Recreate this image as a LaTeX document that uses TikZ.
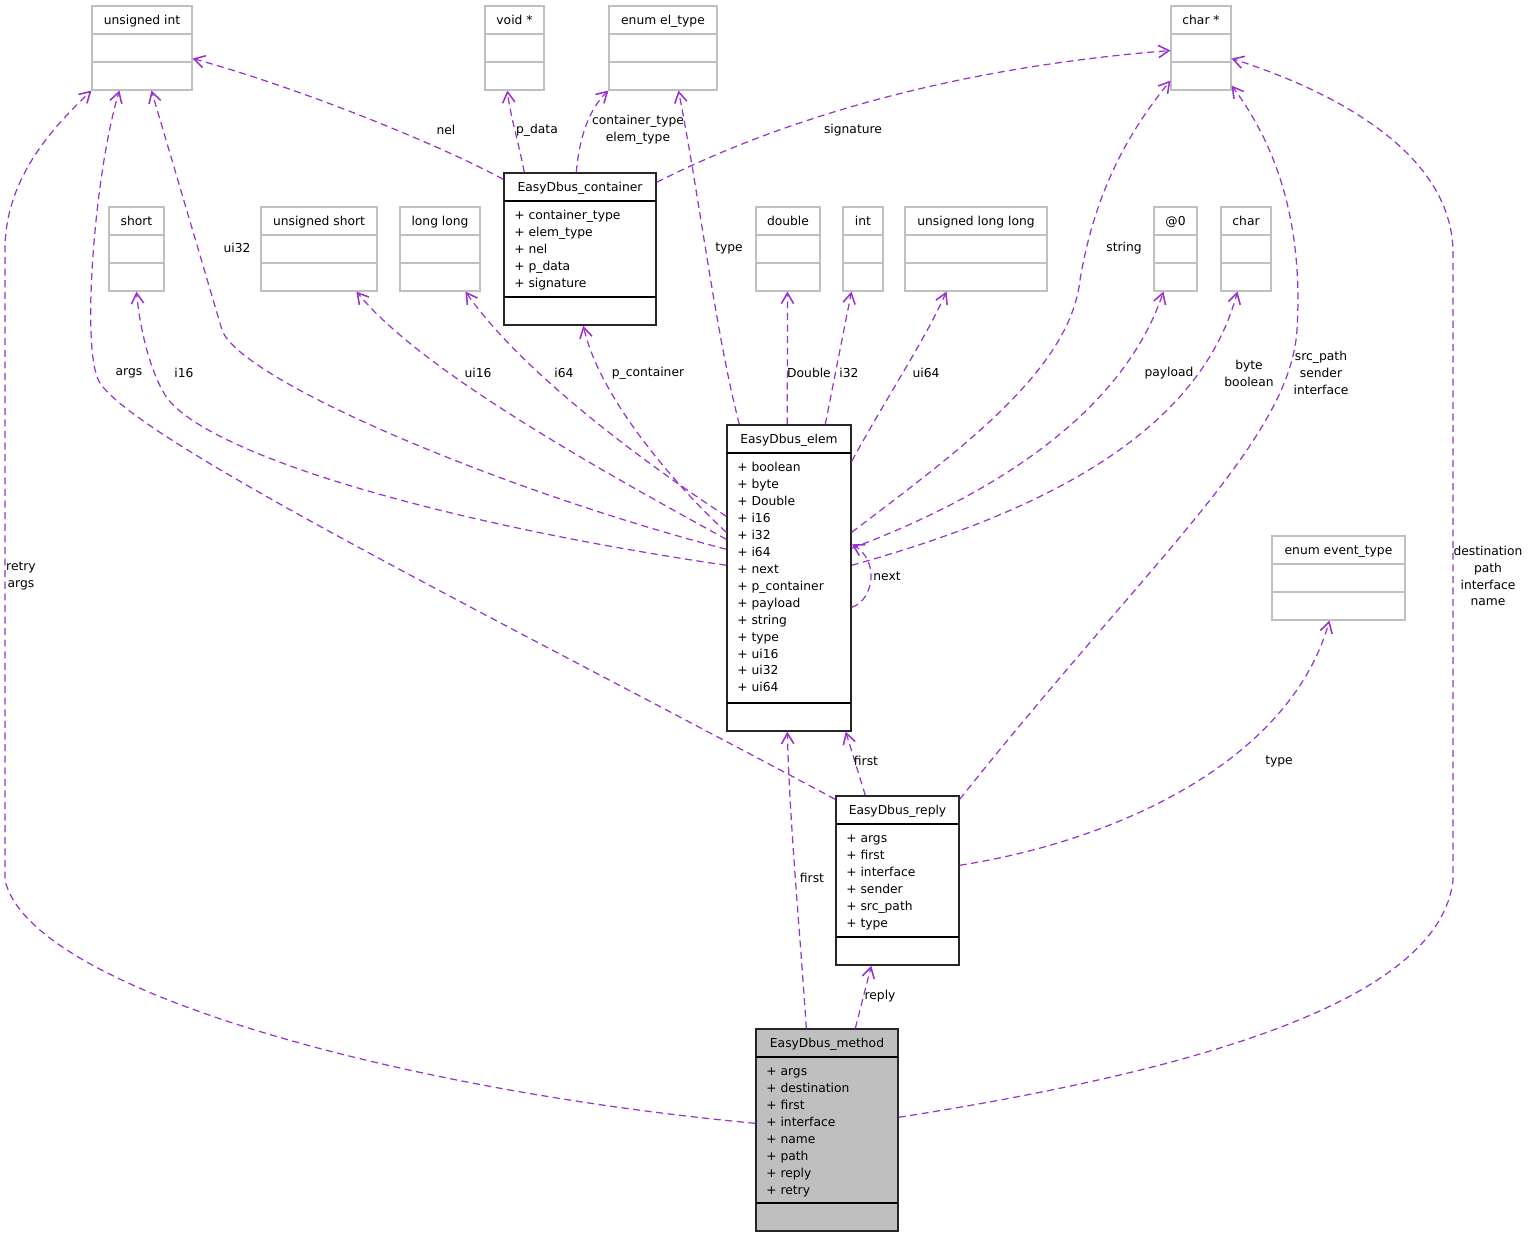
\documentclass[tikz,border=0pt]{standalone}
\usepackage{fontspec}
\setmainfont{DejaVu Sans}
\usetikzlibrary{arrows.meta,fit,calc}
\definecolor{depcol}{HTML}{9A32CD}
\definecolor{typegray}{HTML}{BFBFBF}
\tikzset{
	>={Straight Barb[length=6pt,width=7pt,line width=0.9pt]}
}

% plain type: title + two empty compartments
\newcommand{\typebox}[5]{%
	\node[typeframe, fit={(#2,#3) (#4,#3+84)}] (#1) {};
	\draw[typeline] (#2,#3+28) -- (#4,#3+28) (#2,#3+56) -- (#4,#3+56);
	\node[boxtitle] (#1-t) at ({(#2+#4)/2},#3+18.5) {#5};
}
% struct: title, members, empty compartment
\newcommand{\classbox}[8]{%
	\node[#1, fit={(#3,#4) (#5,#6)}] (#2) {};
	\draw[classline] (#3,#4+28) -- (#5,#4+28) (#3,#6-28) -- (#5,#6-28);
	\node[boxtitle] (#2-t) at ({(#3+#5)/2},#4+18.5) {#7};
	\node[members] (#2-m) at (#3+10,#4+34.5) {#8};
}

\begin{document}
\begin{tikzpicture}[
x = 0.02cm, y = -0.02cm,
every node/.style = {
	font = \fontsize{7}{9.64}\selectfont,
	inner sep = 0pt
},
typeframe/.style = {draw=typegray, line width=0.6pt},
typeline/.style = {draw=typegray, line width=0.6pt},
classframe/.style = {draw=black!85, line width=0.8pt},
mainframe/.style = {classframe, fill=typegray},
classline/.style = {draw=black, line width=0.8pt},
boxtitle/.style = {anchor=base},
members/.style = {anchor=north west, align=left},
dep/.style = {->, draw=depcol, line width=0.7pt, dash pattern=on 4pt off 2.6pt},
elabel/.style = {align=center}
]
\useasboundingbox (0,0) rectangle (1528,1237);

% plain types
\typebox{uint}{92}{6}{192}{unsigned int}
\typebox{voidp}{485}{6}{544}{void *}
\typebox{eltype}{609}{6}{717}{enum el\_type}
\typebox{charp}{1171}{6}{1231}{char *}
\typebox{short}{109}{207}{164}{short}
\typebox{ushort}{261}{207}{377}{unsigned short}
\typebox{llong}{400}{207}{480}{long long}
\typebox{double}{756}{207}{820}{double}
\typebox{int}{843}{207}{883}{int}
\typebox{ullong}{905}{207}{1047}{unsigned long long}
\typebox{anon}{1154}{207}{1197}{@0}
\typebox{char}{1221}{207}{1271}{char}
\typebox{evtype}{1272}{536}{1405}{enum event\_type}

% structs
\classbox{classframe}{cont}{504}{173}{656}{325}{EasyDbus\_container}
	{\strut+ container\_type\\+ elem\_type\\+ nel\\+ p\_data\\+ signature}
\classbox{classframe}{elem}{727}{425}{851}{731}{EasyDbus\_elem}
	{\strut+ boolean\\+ byte\\+ Double\\+ i16\\+ i32\\+ i64\\+ next\\+ p\_container\\+ payload\\+ string\\+ type\\+ ui16\\+ ui32\\+ ui64}
\classbox{classframe}{reply}{836}{796}{959}{965}{EasyDbus\_reply}
	{\strut+ args\\+ first\\+ interface\\+ sender\\+ src\_path\\+ type}
\classbox{mainframe}{method}{756}{1029}{898}{1231}{EasyDbus\_method}
	{\strut+ args\\+ destination\\+ first\\+ interface\\+ name\\+ path\\+ reply\\+ retry}

% container members
\draw[dep] ($(cont.north west)+(0,7)$) .. controls (440,145) and (300,88) .. ($(uint.south east)+(0,-32)$);
\draw[dep] ($(cont.north west)+(21,0)$) .. controls (518,140) and (510,115) .. ($(voidp.south west)+(23,0)$);
\draw[dep] ($(cont.north west)+(73,0)$) .. controls (579,140) and (588,110) .. (eltype.south west);
\draw[dep] ($(cont.north east)+(0,10)$) .. controls (780,120) and (950,68) .. ($(charp.south west)+(0,-40)$);

% elem members
\draw[dep] ($(elem.north west)+(0,125)$) .. controls (500,490) and (240,380) .. (222,330) -- ($(uint.south west)+(60,0)$);
\draw[dep] ($(elem.north west)+(0,141)$) .. controls (420,520) and (200,450) .. (165,395) .. controls (150,370) and (140,330) .. ($(short.south west)+(28,0)$);
\draw[dep] ($(elem.north west)+(0,115)$) .. controls (600,470) and (420,370) .. ($(ushort.south west)+(96,0)$);
\draw[dep] ($(elem.north west)+(0,92)$) .. controls (640,460) and (520,370) .. ($(llong.south west)+(66,0)$);
\draw[dep] ($(elem.north west)+(0,108)$) .. controls (680,490) and (600,400) .. ($(cont.south west)+(80,0)$);
\draw[dep] ($(elem.north west)+(13,0)$) .. controls (715,330) and (700,200) .. ($(eltype.south west)+(70,0)$);
\draw[dep] ($(elem.north west)+(61,0)$) -- ($(double.south west)+(32,0)$);
\draw[dep] ($(elem.north west)+(99,0)$) -- ($(int.south west)+(9,0)$);
\draw[dep] ($(elem.north east)+(0,37)$) .. controls (885,400) and (925,340) .. ($(ullong.south west)+(42,0)$);
\draw[dep] ($(elem.north east)+(0,108)$) .. controls (960,450) and (1070,370) .. (1080,280) .. controls (1095,190) and (1130,130) .. ($(charp.south west)+(0,-10)$);
\draw[dep] ($(elem.north east)+(0,124)$) .. controls (980,500) and (1120,420) .. ($(anon.south west)+(10,0)$);
\draw[dep] ($(elem.north east)+(0,141)$) .. controls (1050,510) and (1200,430) .. ($(char.south west)+(17,0)$);
\draw[dep] ($(elem.north east)+(0,183)$) .. controls (874,600) and (880,560) .. ($(elem.north east)+(0,120)$);

% reply members
\draw[dep] ($(reply.north west)+(0,4)$) .. controls (500,620) and (140,443) .. (100,383) .. controls (80,353) and (95,170) .. ($(uint.south west)+(28,0)$);
\draw[dep] ($(reply.north west)+(30,0)$) -- ($(elem.south east)+(-6,0)$);
\draw[dep] ($(reply.north east)+(0,4)$) .. controls (1150,560) and (1290,440) .. (1297,330) .. controls (1303,230) and (1280,150) .. ($(charp.south east)+(0,-5)$);
\draw[dep] ($(reply.north east)+(0,70)$) .. controls (1120,840) and (1290,760) .. ($(evtype.south west)+(58,0)$);

% method members
\draw[dep] ($(method.north west)+(51,0)$) .. controls (800,930) and (790,830) .. ($(elem.south west)+(61,0)$);
\draw[dep] ($(method.north west)+(100,0)$) -- ($(reply.south west)+(36,0)$);
\draw[dep] ($(method.north west)+(0,95)$) .. controls (400,1090) and (30,990) .. (5,880) -- (5,250) .. controls (5,180) and (50,130) .. (uint.south west);
\draw[dep] ($(method.north east)+(0,89)$) .. controls (1200,1070) and (1440,1000) .. (1453,880) -- (1453,250) .. controls (1450,150) and (1330,90) .. ($(charp.south east)+(0,-32)$);

% labels
\node[elabel] (l-nel) at (446,130) {nel};
\node[elabel] (l-pdata) at (537,130) {p\_data};
\node[elabel] (l-ctype) at (638,130) {container\_type\\elem\_type};
\node[elabel] (l-sig) at (853,130) {signature};
\node[elabel] (l-ui32) at (237,248) {ui32};
\node[elabel] (l-type) at (729,248) {type};
\node[elabel] (l-string) at (1124,248) {string};
\node[elabel] (l-args) at (129,373) {args};
\node[elabel] (l-i16) at (184,373) {i16};
\node[elabel] (l-ui16) at (478,373) {ui16};
\node[elabel] (l-i64) at (564,373) {i64};
\node[elabel] (l-pcont) at (648,373) {p\_container};
\node[elabel] (l-double) at (809,373) {Double};
\node[elabel] (l-i32) at (849,373) {i32};
\node[elabel] (l-ui64) at (926,373) {ui64};
\node[elabel] (l-payload) at (1169,373) {payload};
\node[elabel] (l-byte) at (1249,373) {byte\\boolean};
\node[elabel] (l-src) at (1321,373) {src\_path\\sender\\interface};
\node[elabel] (l-retry) at (21,576) {retry\\args};
\node[elabel] (l-next) at (887,576) {next};
\node[elabel] (l-dest) at (1488,576) {destination\\path\\interface\\name};
\node[elabel] (l-rfirst) at (866,761) {first};
\node[elabel] (l-evtype) at (1279,761) {type};
\node[elabel] (l-mfirst) at (812,878) {first};
\node[elabel] (l-reply) at (880,996) {reply};

\end{tikzpicture}
\end{document}
